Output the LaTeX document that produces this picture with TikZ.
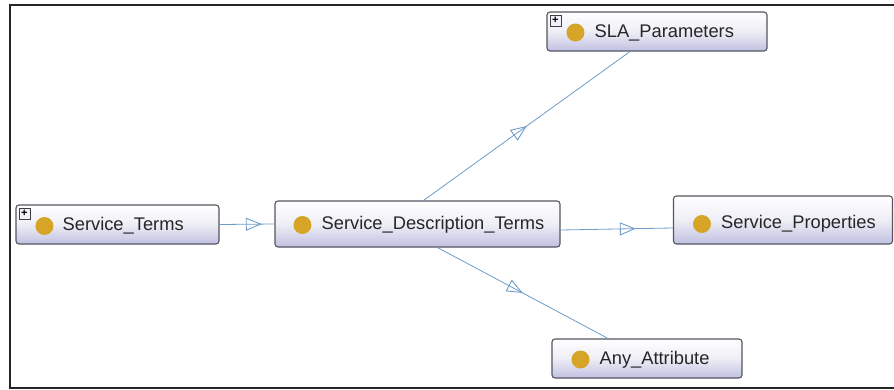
\documentclass[tikz,border=0pt]{standalone}
\usepackage{fontspec}
\setmainfont{Liberation Sans}
\usetikzlibrary{arrows.meta,decorations.markings}
\definecolor{goldc}{RGB}{214,165,40}
\definecolor{edgec}{RGB}{110,155,200}
\definecolor{boxbot}{RGB}{192,192,226}
\definecolor{boxmid}{RGB}{238,238,246}
\definecolor{boxline}{RGB}{85,85,95}
\tikzset{
  cls/.style={draw=boxline, line width=1.1pt, rounded corners=3pt,
    top color=white, bottom color=boxbot, middle color=boxmid, inner sep=0pt},
  lbl/.style={anchor=west, inner sep=0pt, font=\fontsize{18.3}{20}\selectfont, text=black!85},
  isa/.style={draw=edgec, line width=0.8pt, postaction={decorate},
    decoration={markings, mark=at position #1 with {\arrow[edgec, line width=0.9pt]{Triangle[open,length=16pt,width=13pt]}}}},
  plusbox/.style={draw=black!75, line width=0.6pt, fill=blue!6, minimum size=11pt, inner sep=0pt,
    font=\fontsize{11}{11}\selectfont\bfseries}
}
\begin{document}
\begin{tikzpicture}[x=1pt,y=-1pt]
\useasboundingbox (0,0) rectangle (894,390);
% frame
\draw[line width=2pt, black!85] (894,5) -- (9.5,5) -- (9.5,388) -- (894,388);

% nodes
\node[cls, minimum width=203pt, minimum height=39pt] (st) at (117.5,224.5) {};
\node[cls, minimum width=285pt, minimum height=46pt] (sdt) at (417.5,224) {};
\node[cls, minimum width=220pt, minimum height=39pt] (sla) at (657,31.5) {};
\node[cls, minimum width=219pt, minimum height=48pt] (sp) at (783,220) {};
\node[cls, minimum width=190pt, minimum height=39pt] (any) at (647,358.5) {};

% icons and labels
\fill[goldc] ([xshift=29pt,yshift=-1.5pt]st.west) circle (9pt);
\node[lbl] (stl) at ([xshift=47pt,yshift=-1.5pt]st.west) {Service\_Terms};
\node[plusbox] (stp) at ([xshift=9pt,yshift=-9pt]st.north west) {+};

\fill[goldc] ([xshift=28pt,yshift=-1pt]sdt.west) circle (9pt);
\node[lbl] (sdtl) at ([xshift=47pt,yshift=-1pt]sdt.west) {Service\_Description\_Terms};

\fill[goldc] ([xshift=29pt,yshift=-1pt]sla.west) circle (9pt);
\node[lbl] (slal) at ([xshift=48pt,yshift=-1pt]sla.west) {SLA\_Parameters};
\node[plusbox] (slap) at ([xshift=9pt,yshift=-9pt]sla.north west) {+};

\fill[goldc] ([xshift=29pt,yshift=-4pt]sp.west) circle (9pt);
\node[lbl] (spl) at ([xshift=48pt,yshift=-4pt]sp.west) {Service\_Properties};

\fill[goldc] ([xshift=29pt,yshift=-1pt]any.west) circle (9pt);
\node[lbl] (anyl) at ([xshift=48pt,yshift=-1pt]any.west) {Any\_Attribute};

% edges
\path[isa=0.77] (st.east) -- (sdt.west);
\path[isa=0.5] ([xshift=6pt]sdt.north) -- ([xshift=-27pt]sla.south);
\path[isa=0.67] ([yshift=-6pt]sdt.east) -- ([yshift=-8pt]sp.west);
\path[isa=0.5] ([xshift=20pt]sdt.south) -- ([xshift=-39pt]any.north);
\end{tikzpicture}
\end{document}
